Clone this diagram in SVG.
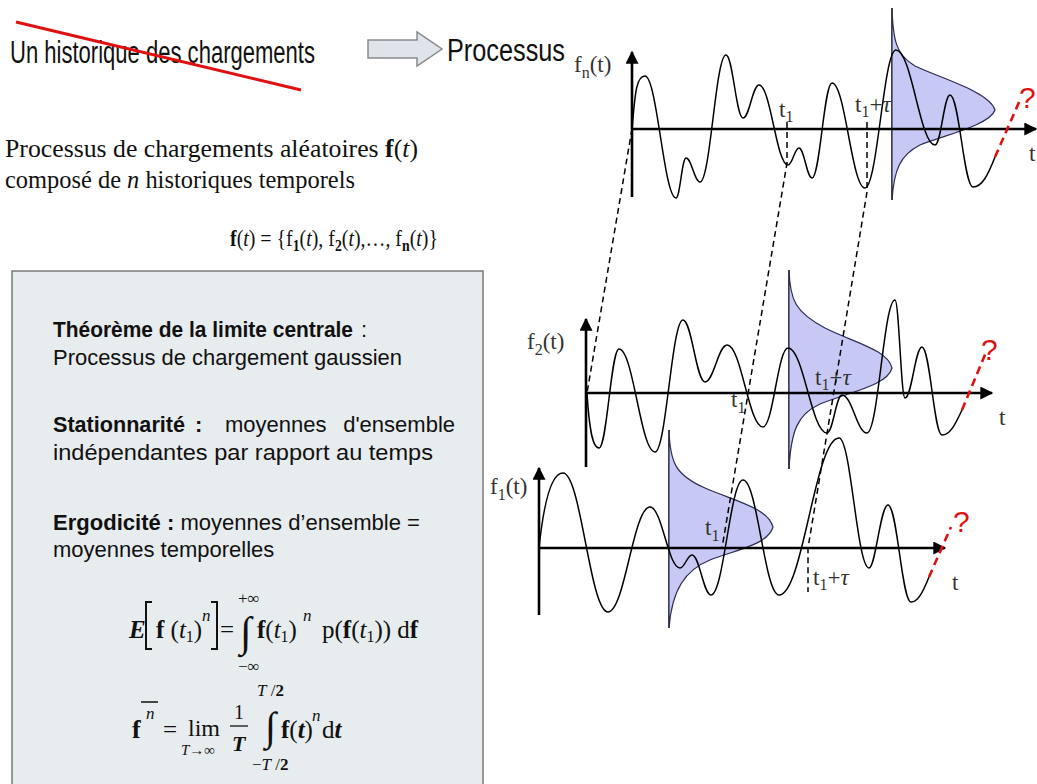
<svg xmlns="http://www.w3.org/2000/svg" width="1037" height="784" viewBox="0 0 1037 784">
<defs>
<marker id="ah" viewBox="0 0 10 10" refX="9" refY="5" markerWidth="5.5" markerHeight="5" orient="auto" markerUnits="strokeWidth"><path d="M0,0 L10,5 L0,10 Z" fill="#000"/></marker>
</defs>
<style>
.sans{font-family:"Liberation Sans",Arial,sans-serif;fill:#111}
.serif{font-family:"Liberation Serif","Times New Roman",serif;fill:#111}
.lab{font-family:"Liberation Serif","Times New Roman",serif;fill:#333;font-size:23px}
.axis{stroke:#000;stroke-width:2.6;fill:none;marker-end:url(#ah)}
.curve{stroke:#000;stroke-width:1.5;fill:none}
.gauss{fill:#c8c8f4;stroke:#2c2c55;stroke-width:1.2}
.gline{stroke:#333;stroke-width:1.6}
.dash{stroke:#000;stroke-width:1.5;fill:none;stroke-dasharray:6 4}
.rdash{stroke:#e01010;stroke-width:2.6;fill:none;stroke-dasharray:8 5}
.q{font-family:"Liberation Sans",Arial,sans-serif;fill:#e01010;font-size:30px}
.b{font-weight:bold}
.i{font-style:italic}
</style>
<rect width="1037" height="784" fill="#fff"/>

<g id="title">
<text class="sans" x="10" y="63" font-size="31" textLength="305" lengthAdjust="spacingAndGlyphs">Un historique des chargements</text>
<line x1="16" y1="22" x2="301" y2="90" stroke="#e01010" stroke-width="3"/>
<path d="M368,40 H417 V32 L442,49 L417,66 V58 H368 Z" fill="#dfe3ea" stroke="#8a8a8a" stroke-width="1.5"/>
<text class="sans" x="447" y="61" font-size="31" textLength="118" lengthAdjust="spacingAndGlyphs">Processus</text>
</g>

<g id="para">
<text class="serif" x="5" y="157" font-size="26" textLength="413" lengthAdjust="spacingAndGlyphs">Processus de chargements aléatoires <tspan class="b">f</tspan>(<tspan class="i">t</tspan>)</text>
<text class="serif" x="5" y="188" font-size="26" textLength="350" lengthAdjust="spacingAndGlyphs">composé de <tspan class="i">n</tspan> historiques temporels</text>
<text class="serif" x="230" y="246" font-size="23" textLength="208" lengthAdjust="spacingAndGlyphs"><tspan class="b">f</tspan>(<tspan class="i">t</tspan>) = {f<tspan font-size="16" dy="5" class="b">1</tspan><tspan dy="-5">(</tspan><tspan class="i">t</tspan>), f<tspan font-size="16" dy="5" class="b">2</tspan><tspan dy="-5">(</tspan><tspan class="i">t</tspan>),…, f<tspan font-size="16" dy="5" class="b">n</tspan><tspan dy="-5">(</tspan><tspan class="i">t</tspan>)}</text>
</g>

<g id="box">
<rect x="12" y="271" width="471" height="530" fill="#e7ecee" stroke="#7a7a7a" stroke-width="1.5"/>
<text class="sans b" x="53" y="337" font-size="22" textLength="300" lengthAdjust="spacingAndGlyphs">Théorème de la limite centrale</text>
<text class="sans" x="361" y="337" font-size="22">:</text>
<text class="sans" x="53" y="365" font-size="22" textLength="349" lengthAdjust="spacingAndGlyphs">Processus de chargement gaussien</text>
<text class="sans b" x="53" y="432" font-size="22" textLength="132" lengthAdjust="spacingAndGlyphs">Stationnarité</text>
<text class="sans b" x="195" y="432" font-size="22">:</text>
<text class="sans" x="225" y="432" font-size="22">moyennes</text>
<text class="sans" x="455" y="432" font-size="22" text-anchor="end">d'ensemble</text>
<text class="sans" x="53" y="460" font-size="22" textLength="380" lengthAdjust="spacingAndGlyphs">indépendantes par rapport au temps</text>
<text class="sans" x="53" y="530" font-size="22" textLength="367" lengthAdjust="spacingAndGlyphs"><tspan class="b">Ergodicité :</tspan> moyennes d’ensemble =</text>
<text class="sans" x="53" y="557" font-size="22">moyennes temporelles</text>

<g id="eq1" class="serif">
<text x="129" y="638" font-size="25" class="i b">E</text>
<path d="M152,602 H146 V649 H152 M211,602 H217 V649 H211" fill="none" stroke="#111" stroke-width="2"/>
<text x="156" y="638" font-size="25"><tspan class="b">f</tspan> (<tspan class="i">t</tspan><tspan font-size="16" dy="4">1</tspan><tspan dy="-4">)</tspan></text>
<text x="202" y="621" font-size="17" class="i">n</text>
<text x="220" y="638" font-size="25">=</text>
<text x="238" y="604" font-size="17">+∞</text>
<text x="238" y="672" font-size="17">−∞</text>
<text x="240" y="646" font-size="42">∫</text>
<text x="257" y="638" font-size="25"><tspan class="b">f</tspan>(<tspan class="i">t</tspan><tspan font-size="16" dy="4">1</tspan><tspan dy="-4">)</tspan></text>
<text x="303" y="621" font-size="17" class="i">n</text>
<text x="322" y="638" font-size="25">p(<tspan class="b">f</tspan>(<tspan class="i">t</tspan><tspan font-size="16" dy="4">1</tspan><tspan dy="-4">)) d</tspan><tspan class="b">f</tspan></text>
</g>

<g id="eq2" class="serif">
<text x="132" y="738" font-size="26" class="b">f</text>
<line x1="141" y1="702" x2="158" y2="702" stroke="#111" stroke-width="1.5"/>
<text x="146" y="719" font-size="17" class="i">n</text>
<text x="163" y="738" font-size="25">=</text>
<text x="188" y="736" font-size="24">lim</text>
<text x="181" y="755" font-size="15"><tspan class="i">T</tspan>→∞</text>
<text x="234" y="719" font-size="20">1</text>
<line x1="230" y1="726" x2="248" y2="726" stroke="#111" stroke-width="1.3"/>
<text x="232" y="751" font-size="22" class="i b">T</text>
<text x="257" y="696" font-size="17"><tspan class="i">T</tspan> /<tspan class="b">2</tspan></text>
<text x="265" y="740" font-size="40">∫</text>
<text x="281" y="738" font-size="25"><tspan class="b">f</tspan>(<tspan class="i b">t</tspan>)</text>
<text x="312" y="721" font-size="17" class="i">n</text>
<text x="322" y="738" font-size="25">d<tspan class="i b">t</tspan></text>
<text x="252" y="770" font-size="17">−<tspan class="i">T</tspan> /<tspan class="b">2</tspan></text>
</g>
</g>

<g id="plot-fn">
<text class="lab" x="855" y="112">t<tspan font-size="16" dy="5">1</tspan><tspan dy="-5">+</tspan><tspan class="i">τ</tspan></text>
<line class="gline" x1="892" y1="8" x2="892" y2="200"/>
<path class="gauss" d="M892,8 C893,40 896,55 915,66 C940,78 990,92 995,110 C990,125 945,135 920,145 C900,155 894,170 892,200 Z"/>
<line class="axis" x1="632" y1="197" x2="632" y2="52"/>
<line class="axis" x1="632" y1="129" x2="1036" y2="129"/>
<path class="curve" d="M632,129 C635,95 636,76 645,76 C657,76 664,198 676,198 C680,198 682,158 686,158 C691.6,158 694.4,182 700,182 C710.4,182 715.6,55 726,55 C732.8,55 736.2,118 743,118 C749.4,118 752.6,85 759,85 C770.6,85 776.4,165 788,165 C792.4,165 794.6,148 799,148 C804.2,148 806.8,178 812,178 C820,178 824,83 832,83 C845.2,83 851.8,188 865,188 C877.4,188 883.6,50 896,50 C911.6,50 920,145 935,145 C941,145 944,95 950,95 C959.2,95 963.8,187 973,187 C982,187 988,175 995,157"/>
<line class="rdash" x1="995" y1="157" x2="1020" y2="100"/>
<text class="q" x="1019" y="108">?</text>
<text class="lab" x="574" y="72">f<tspan font-size="16" dy="6">n</tspan><tspan dy="-6">(t)</tspan></text>
<text class="lab" x="779" y="117">t<tspan font-size="16" dy="5">1</tspan></text>
<text class="lab" x="1029" y="161">t</text>
</g>

<g id="plot-f2">
<line class="gline" x1="789" y1="270" x2="789" y2="469"/>
<path class="gauss" d="M789,270 C790,300 795,312 825,328 C855,343 888,350 892,368 C888,385 850,392 820,404 C798,414 791,430 789,469 Z"/>
<line class="axis" x1="586" y1="467" x2="586" y2="319"/>
<line class="axis" x1="586" y1="393" x2="992" y2="393"/>
<path class="curve" d="M587,393 C589,425 592,448 599,448 C607,448 611,349 619,349 C633.4,349 640.6,452 655,452 C666.2,452 671.8,320 683,320 C691.8,320 696.2,382 705,382 C713.8,382 718.2,345 727,345 C741.4,345 748.6,427 763,427 C773,427 778,348 788,348 C803.6,348 811.4,433 827,433 C833,433 836,395 842,395 C852,395 857,433 867,433 C878.2,433 883.8,300 895,300 C899,300 901,398 905,398 C911.8,398 915.2,347 922,347 C930,347 934,435 942,435 C950,435 955,425 962,410"/>
<line class="rdash" x1="962" y1="410" x2="987" y2="350"/>
<text class="q" x="981" y="360">?</text>
<text class="lab" x="527" y="349">f<tspan font-size="16" dy="6">2</tspan><tspan dy="-6">(t)</tspan></text>
<text class="lab" x="731" y="407">t<tspan font-size="16" dy="6">1</tspan></text>
<text class="lab" x="815" y="385">t<tspan font-size="16" dy="5">1</tspan><tspan dy="-5">+</tspan><tspan class="i">τ</tspan></text>
<text class="lab" x="999" y="425">t</text>
</g>

<g id="plot-f1">
<line class="gline" x1="669" y1="430" x2="669" y2="628"/>
<path class="gauss" d="M669,430 C670,462 675,475 705,488 C735,501 768,508 773,527 C768,545 735,550 710,560 C685,570 672,590 669,628 Z"/>
<line class="axis" x1="539" y1="615" x2="539" y2="468"/>
<line class="axis" x1="539" y1="548" x2="945" y2="548"/>
<path class="curve" d="M539,548 C543,510 550,473 563,473 C581,473 590,612 608,612 C624.8,612 633.2,507 650,507 C662,507 668,568 680,568 C684.8,568 687.2,555 692,555 C699.6,555 703.4,595 711,595 C723.8,595 730.2,480 743,480 C757.4,480 764.6,595 779,595 C803,595 815,438 839,438 C851,438 857,568 869,568 C875.6,568 880.4,505 888,505 C897.2,505 901.8,602 911,602 C918,602 923,592 929,577"/>
<line class="rdash" x1="929" y1="577" x2="951" y2="527"/>
<text class="q" x="953" y="532">?</text>
<text class="lab" x="490" y="494">f<tspan font-size="16" dy="6">1</tspan><tspan dy="-6">(t)</tspan></text>
<text class="lab" x="705" y="535">t<tspan font-size="16" dy="6">1</tspan></text>
<text class="lab" x="813" y="585">t<tspan font-size="16" dy="5">1</tspan><tspan dy="-5">+</tspan><tspan class="i">τ</tspan></text>
<text class="lab" x="952" y="590">t</text>
</g>

<g id="connectors">
<path class="dash" d="M632,129 L587,393"/>
<path class="dash" d="M787,122 L787,163 L722,548"/>
<path class="dash" d="M867,122 L867,192 L808,548 L808,592"/>
</g>
</svg>
